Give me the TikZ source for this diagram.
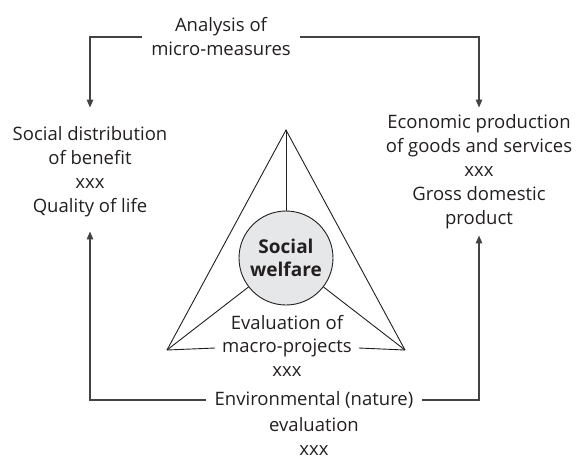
\documentclass[tikz,border=0pt]{standalone}
\usepackage{fontspec}
\setmainfont{Open Sans}
\usetikzlibrary{arrows.meta}
\definecolor{ink}{HTML}{231F20}
\definecolor{discfill}{HTML}{E6E7E8}
\begin{document}
\begin{tikzpicture}[x=1pt,y=-1pt,
  txt/.style={font=\fontsize{18.5}{24}\selectfont, align=center, text=ink, inner sep=0pt},
  conn/.style={draw=ink!85, line width=1.2pt},
  arr/.style={conn, -{Triangle[length=8pt,width=6.5pt]}},
  tri/.style={draw=ink, line width=0.9pt, line join=miter}]
\useasboundingbox (0,0) rectangle (576,456);
% text nodes
\node[txt, inner xsep=9pt] (top) at (221,37) {Analysis of\\micro-measures};
\node[txt] (sd) at (90,172) {Social distribution\\of benefit\\xxx\\Quality of life};
\node[txt] (ep) at (479,172) {Economic production\\of goods and services\\xxx\\Gross domestic\\product};
% centre
\node[circle, draw=ink, line width=0.9pt, fill=discfill, minimum size=94pt, inner sep=0pt,
      font=\fontsize{19}{23}\selectfont\bfseries, text=ink, align=center] (sw) at (286,258) {Social\\welfare};
\coordinate (apex) at (286,130);
\coordinate (bl) at (167,350);
\coordinate (br) at (405,350);
\node[txt] (evt) at (287,323) {Evaluation of};
\node[txt, inner xsep=7pt] (ev) at (287,348) {macro-projects};
\node[txt] (evx) at (287,372) {xxx};
\draw[tri] (bl) -- (apex) -- (br);
\draw[tri] (apex) -- (sw);
\draw[tri] (sw) -- (bl);
\draw[tri] (sw) -- (br);
\draw[tri] (bl) -- (ev.west);
\draw[tri] (ev.east) -- (br);
% bottom
\node[txt, inner xsep=9pt] (env) at (314,400) {Environmental (nature)};
\node[txt] (envs) at (314,436) {evaluation\\xxx};
% connectors
\draw[arr, shorten >=19pt] (top.west) -| (sd.north);
\draw[arr, shorten >=7pt] (top.east) -| (ep.north);
\draw[arr, shorten >=14pt] (env.west) -| (sd.south);
\draw[arr, shorten >=6pt] (env.east) -| (ep.south);
\end{tikzpicture}
\end{document}
